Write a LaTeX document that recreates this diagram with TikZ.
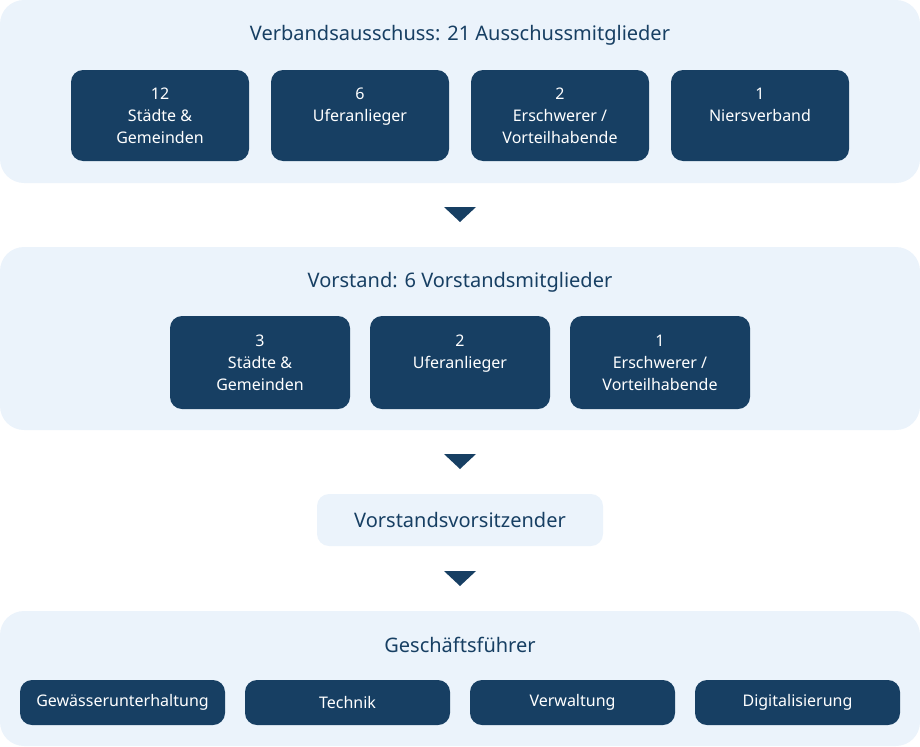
\documentclass[tikz,border=0pt]{standalone}
\usepackage{fontspec}
\setmainfont{Noto Sans}
\definecolor{panel}{HTML}{EBF3FB}
\definecolor{dark}{HTML}{173F63}
\begin{document}
\begin{tikzpicture}[x=0.75pt,y=-0.75pt,
 panel/.style={fill=panel,draw=none,rounded corners=18pt},
 box/.style={fill=dark,draw=none,rounded corners=9pt,text=white,align=center,font=\fontsize{12}{16.5}\selectfont},
 title/.style={text=dark,font=\fontsize{15}{18}\selectfont\bfseries},
 tri/.style={fill=dark,draw=none}]
\useasboundingbox (0,0) rectangle (920,746);
\fill[panel] (0,0) rectangle (920,183);
\fill[panel] (0,247) rectangle (920,430);
\fill[panel] (0,611) rectangle (920,746);
\node[title] (t1) at (460,35) {Verbandsausschuss: 21 Ausschussmitglieder};
\newcommand\mybox[6]{\fill[dark,rounded corners=9pt] (#1,#2) rectangle (#3,#4);
 \node[box,fill=none] (#5) at ({(#1+#3)/2},{(#2+#4)/2}) {#6};}
\mybox{71}{70}{249}{161}{a1}{\textbf{12}\\Städte \&\\Gemeinden}
\mybox{271}{70}{449}{161}{a2}{\textbf{6}\\Uferanlieger\\\phantom{X}}
\mybox{471}{70}{649}{161}{a3}{\textbf{2}\\Erschwerer /\\Vorteilhabende}
\mybox{671}{70}{849}{161}{a4}{\textbf{1}\\Niersverband\\\phantom{X}}
\fill[tri] (444,207) -- (476,207) -- (460,222) -- cycle;
\node[title] (t2) at (460,282) {Vorstand: 6 Vorstandsmitglieder};
\mybox{170}{316}{350}{409}{b1}{\textbf{3}\\Städte \&\\Gemeinden}
\mybox{370}{316}{550}{409}{b2}{\textbf{2}\\Uferanlieger\\\phantom{X}}
\mybox{570}{316}{750}{409}{b3}{\textbf{1}\\Erschwerer /\\Vorteilhabende}
\fill[tri] (444,454) -- (476,454) -- (460,469) -- cycle;
\fill[panel,rounded corners=9pt] (317,494) rectangle (603,546);
\node[title] (v) at (460,520) {Vorstandsvorsitzender};
\fill[tri] (444,571) -- (476,571) -- (460,586) -- cycle;
\node[title] (t3) at (460,645) {Geschäftsführer};
\mybox{20}{680}{225}{725}{c1}{Gewässerunterhaltung}
\mybox{245}{680}{450}{725}{c2}{Technik}
\mybox{470}{680}{675}{725}{c3}{Verwaltung}
\mybox{695}{680}{900}{725}{c4}{Digitalisierung}
\end{tikzpicture}
\end{document}
